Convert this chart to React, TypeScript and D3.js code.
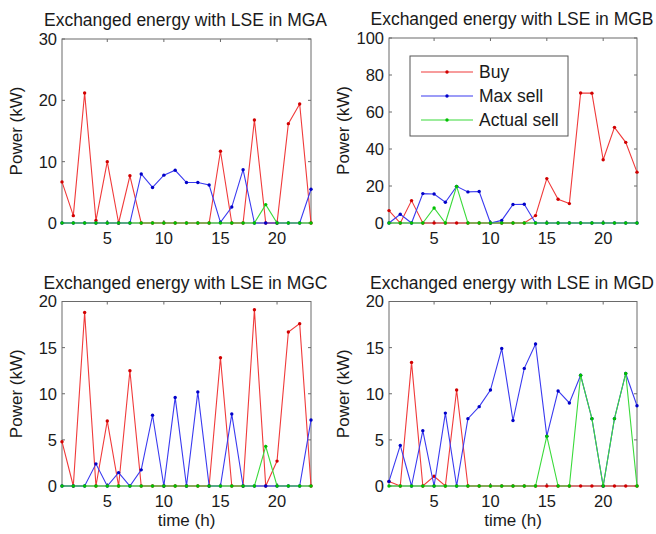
import React from "react";
import * as d3 from "d3";

const hours = [1, 2, 3, 4, 5, 6, 7, 8, 9, 10, 11, 12, 13, 14, 15, 16, 17, 18, 19, 20, 21, 22, 23];
const xTicks = [5, 10, 15, 20];

const buyA = [6.7, 1.2, 21.2, 0.4, 10.0, 0, 7.7, 0, 0, 0, 0, 0, 0, 0, 11.7, 0, 0, 16.8, 0, 0, 16.2, 19.4, 0];
const maxSellA = [0, 0, 0, 0, 0, 0, 0, 8.0, 5.8, 7.8, 8.6, 6.6, 6.6, 6.2, 0.1, 2.6, 8.7, 0, 0, 0, 0, 0, 5.5];
const actSellA = [0, 0, 0, 0, 0, 0, 0, 0, 0, 0, 0, 0, 0, 0, 0, 0, 0, 0, 3.0, 0, 0, 0, 0];

const buyB = [6.7, 0, 12.1, 0, 0, 0, 0, 0, 0, 0, 0, 0, 0, 4.0, 24.0, 12.8, 10.5, 70.3, 70.2, 34.2, 51.7, 43.6, 27.5];
const maxSellB = [0, 4.7, 0, 15.9, 15.7, 11.2, 19.8, 16.8, 17.0, 0, 1.4, 10.0, 10.1, 0, 0, 0, 0, 0, 0, 0, 0, 0, 0];
const actSellB = [0, 0, 0, 0, 8.1, 0, 19.8, 0, 0, 0, 0, 0, 0, 0, 0, 0, 0, 0, 0, 0, 0, 0, 0];

const buyC = [4.8, 0, 18.8, 0, 7.05, 0, 12.5, 0, 0, 0, 0, 0, 0, 0, 13.9, 0, 0, 19.1, 0, 2.7, 16.7, 17.6, 0];
const maxSellC = [0, 0, 0, 2.4, 0, 1.45, 0, 1.75, 7.67, 0, 9.6, 0, 10.2, 0, 0, 7.8, 0, 0, 0, 0, 0, 0, 7.15];
const actSellC = [0, 0, 0, 0, 0, 0, 0, 0, 0, 0, 0, 0, 0, 0, 0, 0, 0, 0, 4.3, 0, 0, 0, 0];

const buyD = [0.5, 0, 13.4, 0, 1.05, 0, 10.4, 0, 0, 0, 0, 0, 0, 0, 0, 0, 0, 0, 0, 0, 0, 0, 0];
const maxSellD = [0.5, 4.4, 0, 6.0, 0, 7.9, 0, 7.3, 8.6, 10.4, 14.9, 7.1, 12.75, 15.4, 5.4, 10.3, 9.0, 12.0, 7.3, 0, 7.3, 12.2, 8.7];
const actSellD = [0, 0, 0, 0, 0, 0, 0, 0, 0, 0, 0, 0, 0, 0, 5.4, 0, 0, 12.0, 7.3, 0, 7.3, 12.2, 0];

const titles = [
  "Exchanged energy with LSE in MGA",
  "Exchanged energy with LSE in MGB",
  "Exchanged energy with LSE in MGC",
  "Exchanged energy with LSE in MGD",
];
const yTicksA = [0, 10, 20, 30];
const yTicksB = [0, 20, 40, 60, 80, 100];
const yTicksCD = [0, 5, 10, 15, 20];
const seriesNames = ["Buy", "Max sell", "Actual sell"];

const lineColors = ["#f03a3a", "#3a3af0", "#3ada3a"];
const dotColors = ["#d00000", "#0000c8", "#00c000"];
const FONT = "'Liberation Sans', Arial, sans-serif";

type PanelProps = {
  left: number; right: number; top: number; bottom: number;
  yMax: number; yTicks: number[]; title: string;
  series: number[][]; showXLabel: boolean; legend?: boolean;
};

function Panel({ left, right, top, bottom, yMax, yTicks, title, series, showXLabel, legend }: PanelProps) {
  const x = d3.scaleLinear().domain([1, 23]).range([left, right]);
  const y = d3.scaleLinear().domain([0, yMax]).range([bottom, top]);
  const line = d3.line<number>().x((_, i) => x(hours[i])).y((d) => y(d));
  const tl = 3;
  return (
    <g>
      <rect x={left} y={top} width={right - left} height={bottom - top} fill="#fff" stroke="#6a6a6a" strokeWidth={1} />
      {xTicks.map((t) => (
        <g key={"xt" + t}>
          <line x1={x(t)} x2={x(t)} y1={bottom} y2={bottom - tl} stroke="#6a6a6a" />
          <line x1={x(t)} x2={x(t)} y1={top} y2={top + tl} stroke="#6a6a6a" />
          <text x={x(t)} y={bottom + 21} textAnchor="middle" fontSize={16.5} fontFamily={FONT} fill="#1a1a1a">{t}</text>
        </g>
      ))}
      {yTicks.map((t) => (
        <g key={"yt" + t}>
          <line x1={left} x2={left + tl} y1={y(t)} y2={y(t)} stroke="#6a6a6a" />
          <line x1={right} x2={right - tl} y1={y(t)} y2={y(t)} stroke="#6a6a6a" />
          <text x={left - 5} y={y(t)} dy="0.36em" textAnchor="end" fontSize={16.5} fontFamily={FONT} fill="#1a1a1a">{t}</text>
        </g>
      ))}
      {series.map((s, k) => (
        <g key={"s" + k}>
          <path d={line(s) || ""} fill="none" stroke={lineColors[k]} strokeWidth={1.1} />
          {s.map((v, i) => (
            <circle key={i} cx={x(hours[i])} cy={y(v)} r={1.7} fill={dotColors[k]} />
          ))}
        </g>
      ))}
      <text x={(left + right) / 2 - 1} y={top - 13} textAnchor="middle" fontSize={17.5} fontFamily={FONT} fill="#1a1a1a">{title}</text>
      <text transform={`translate(${left - 40},${(top + bottom) / 2}) rotate(-90)`} textAnchor="middle" fontSize={17} fontFamily={FONT} fill="#1a1a1a">Power (kW)</text>
      {showXLabel && (
        <text x={(left + right) / 2} y={bottom + 40} textAnchor="middle" fontSize={17} fontFamily={FONT} fill="#1a1a1a">time (h)</text>
      )}
      {legend && (
        <g>
          <rect x={410} y={56} width={158} height={80} fill="#fff" stroke="#555" strokeWidth={1} />
          {seriesNames.map((n, k) => {
            const ly = 72 + k * 24;
            return (
              <g key={n}>
                <line x1={421} x2={473} y1={ly} y2={ly} stroke={lineColors[k]} strokeWidth={1.1} />
                <circle cx={447} cy={ly} r={1.7} fill={dotColors[k]} />
                <text x={479} y={ly} dy="0.36em" fontSize={17.5} fontFamily={FONT} fill="#1a1a1a">{n}</text>
              </g>
            );
          })}
        </g>
      )}
    </g>
  );
}

export default function App() {
  return (
    <svg width={656} height={534} style={{ position: "absolute", left: 0, top: 0, background: "#fff" }}>
      <rect x={0} y={0} width={656} height={534} fill="#fff" />
      <Panel left={62} right={311} top={39} bottom={223} yMax={30} yTicks={yTicksA} title={titles[0]}
        series={[buyA, maxSellA, actSellA]} showXLabel={false} />
      <Panel left={389} right={637} top={38} bottom={223} yMax={100} yTicks={yTicksB} title={titles[1]}
        series={[buyB, maxSellB, actSellB]} showXLabel={false} legend />
      <Panel left={62} right={311} top={301.5} bottom={486} yMax={20} yTicks={yTicksCD} title={titles[2]}
        series={[buyC, maxSellC, actSellC]} showXLabel={true} />
      <Panel left={389} right={637} top={301.5} bottom={486} yMax={20} yTicks={yTicksCD} title={titles[3]}
        series={[buyD, maxSellD, actSellD]} showXLabel={true} />
    </svg>
  );
}
